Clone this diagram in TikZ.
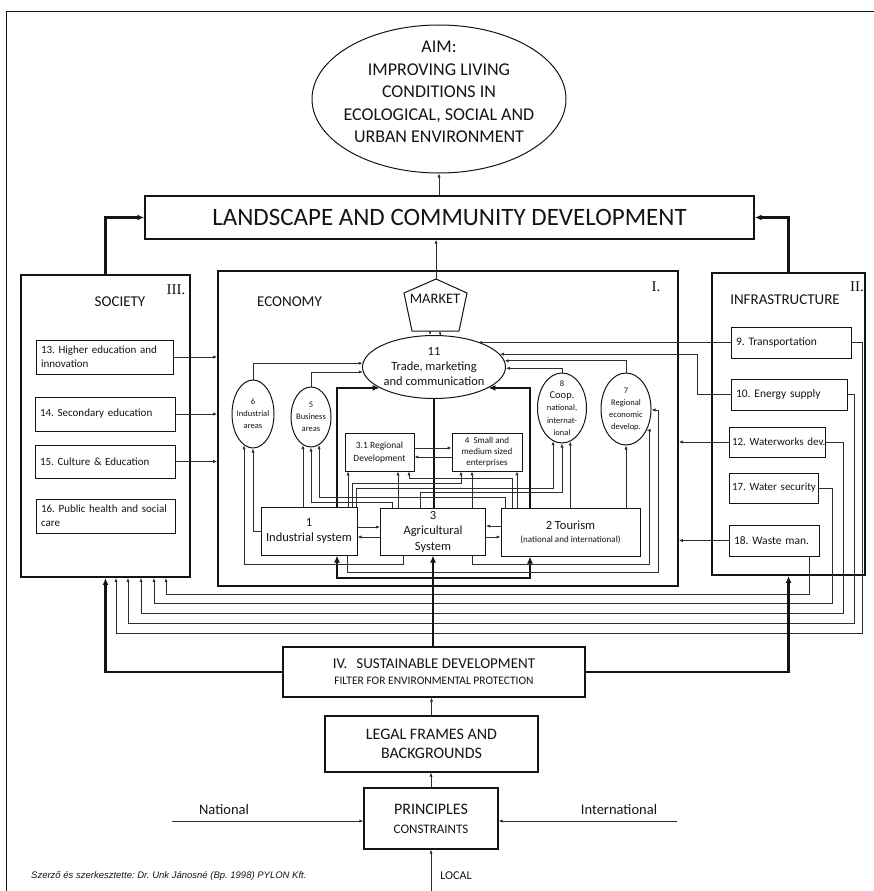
\documentclass[tikz,border=0pt]{standalone}
\usepackage{fontspec}
\usepackage{xcolor}
\usetikzlibrary{arrows.meta,shapes.geometric}
\setmainfont{Carlito}
\newfontfamily\romanfont{Liberation Serif}
\newfontfamily\notefont{Liberation Sans}
\definecolor{ink}{HTML}{141414}
\definecolor{wire}{HTML}{2E2E2E}
\tikzset{
  lbl/.style={inner sep=0pt, align=center, text=ink},
  box/.style={draw=ink, line width=1pt, inner sep=0pt, align=center, text=ink},
  panel/.style={draw=ink, line width=1.8pt, inner sep=0pt},
  subbox/.style={draw=ink, line width=0.8pt, inner xsep=5pt, inner ysep=0pt, align=left, text=ink, font=\fontsize{11}{14}\selectfont},
  oval/.style={draw=ink, ellipse, line width=1pt, inner sep=0pt, align=center, text=ink},
  arr/.style={draw=wire, line width=0.7pt, -{Latex[length=4pt,width=3.2pt]}},
  thk/.style={draw=ink, line width=2.2pt},
  thkarr/.style={thk, -{Latex[length=7pt,width=6pt]}}
}

\begin{document}
\frenchspacing
\begin{tikzpicture}[x=1pt,y=-1pt]
\useasboundingbox (0,0) rectangle (874,891);
\draw[ink, line width=0.8pt] (874,11) -| (6,891);

% aim and landscape
\node[oval, minimum width=254pt, minimum height=148pt] (aim) at (439,99) {};
\node[lbl, font=\fontsize{18}{22.6}\selectfont] (aimtext) at (439,92) {AIM:\\IMPROVING LIVING\\CONDITIONS IN\\ECOLOGICAL, SOCIAL AND\\URBAN ENVIRONMENT};
\node[box, line width=1.4pt, minimum width=609pt, minimum height=43pt, font=\fontsize{25}{30}\selectfont] (lcd) at (449.5,217.5) {LANDSCAPE AND COMMUNITY DEVELOPMENT};

% three pillars
\node[panel, minimum width=169pt, minimum height=302pt] (soc) at (105.5,426) {};
\node[panel, line width=1.6pt, minimum width=460pt, minimum height=315pt] (eco) at (448,428.5) {};
\node[panel, minimum width=153pt, minimum height=302pt] (inf) at (788.5,424) {};
\node[lbl, font=\fontsize{15}{18}\selectfont] (soctitle) at (120,302) {SOCIETY};
\node[lbl, font=\romanfont\fontsize{15}{18}\selectfont] (socnum) at (176,290) {III.};
\node[lbl, font=\fontsize{15}{18}\selectfont] (ecotitle) at (289.5,301.5) {ECONOMY};
\node[lbl, font=\romanfont\fontsize{15}{18}\selectfont] (econum) at (656,287) {I.};
\node[lbl, font=\fontsize{15}{18}\selectfont] (inftitle) at (785,300) {INFRASTRUCTURE};
\node[lbl, font=\romanfont\fontsize{15}{18}\selectfont] (infnum) at (857,287) {II.};

% society
\node[subbox, text width=127pt, minimum height=34pt] (s13) at (104.5,357) {13. Higher education and\\innovation};
\node[subbox, text width=130pt, minimum height=34pt] (s14) at (105,414) {\mbox{14. Secondary education}};
\node[subbox, text width=130pt, minimum height=33pt] (s15) at (105,461.5) {\mbox{15. Culture \& Education}};
\node[subbox, text width=129pt, minimum height=34pt] (s16) at (105.5,516) {\mbox{16. Public health and social}\\care};

% infrastructure
\node[subbox, font=\fontsize{11.5}{13}\selectfont, text width=110pt, minimum height=31pt] (i9) at (791,342.5) {\mbox{9. Transportation}};
\node[subbox, font=\fontsize{11.5}{13}\selectfont, text width=106pt, minimum height=31pt] (i10) at (789,394.5) {\mbox{10. Energy supply}};
\node[subbox, font=\fontsize{11}{13}\selectfont, inner xsep=3pt, text width=90pt, minimum height=30pt] (i12) at (777,442) {\mbox{12. Waterworks dev.}};
\node[subbox, font=\fontsize{11}{13}\selectfont, inner xsep=3pt, text width=83pt, minimum height=30pt] (i17) at (773.5,488) {\mbox{17. Water security}};
\node[subbox, font=\fontsize{11.5}{13}\selectfont, text width=80pt, minimum height=31pt] (i18) at (774,540.5) {\mbox{18. Waste man.}};

% economy
\coordinate (mkttop) at (436,279);
\coordinate (mktbase) at (436,331);
\draw[ink, line width=1pt] (mkttop) -- (404,293) -- (412,331) -- (459,331) -- (467,293) -- cycle;
\node[lbl, font=\fontsize{14.5}{16}\selectfont] (mkt) at (435,299) {MARKET};
\node[oval, minimum width=143pt, minimum height=63pt, font=\fontsize{12.5}{15}\selectfont] (e11) at (434,367) {11\\Trade, marketing\\and communication};
\node[oval, inner sep=-6pt, minimum width=42pt, minimum height=68pt, font=\fontsize{8.5}{12}\selectfont] (e6) at (253,414) {6\\Industrial\\areas};
\node[oval, inner sep=-6pt, minimum width=40pt, minimum height=60pt, font=\fontsize{8.5}{12}\selectfont] (e5) at (311,417) {5\\Business\\areas};
\node[oval, inner sep=-6pt, minimum width=49pt, minimum height=70pt, font=\fontsize{8.5}{12.3}\selectfont] (e8) at (562,408) {8\\{\fontsize{10.5}{12.3}\selectfont Coop.}\\national,\\internat-\\ional};
\node[oval, inner sep=-6pt, minimum width=50pt, minimum height=72pt, font=\fontsize{8.5}{12}\selectfont] (e7) at (626,409) {7\\Regional\\economic\\develop.};
\node[box, line width=0.8pt, minimum width=69pt, minimum height=38pt, font=\fontsize{9.5}{13}\selectfont] (b31) at (379.5,452) {3.1 Regional\\Development};
\node[box, line width=0.8pt, minimum width=70pt, minimum height=38pt, font=\fontsize{9}{11}\selectfont] (b4) at (487,452) {4\ \ Small and\\medium sized\\enterprises};
\node[box, minimum width=96pt, minimum height=48pt, font=\fontsize{12.5}{15}\selectfont] (ind) at (309,531) {1\\Industrial system};
\node[box, minimum width=105pt, minimum height=47pt, font=\fontsize{12.5}{15.5}\selectfont] (agr) at (433,531.5) {3\\Agricultural\\System};
\node[box, minimum width=139pt, minimum height=48pt, font=\fontsize{12.5}{13}\selectfont] (tou) at (570.5,532) {2 Tourism\\{\fontsize{9}{13}\selectfont(national and international)}};

% foundations
\node[box, line width=1.2pt, minimum width=302pt, minimum height=50pt, font=\fontsize{15}{16}\selectfont] (sd) at (434,672) {IV.\hspace{9pt}SUSTAINABLE DEVELOPMENT\\{\fontsize{11.5}{16}\selectfont FILTER FOR ENVIRONMENTAL PROTECTION}};
\node[box, line width=1.2pt, minimum width=213pt, minimum height=56pt, font=\fontsize{16}{19}\selectfont] (legal) at (431.5,744) {LEGAL FRAMES AND\\BACKGROUNDS};
\node[box, line width=1.2pt, minimum width=134pt, minimum height=61pt, font=\fontsize{16}{19}\selectfont] (prin) at (431,818.5) {PRINCIPLES\\{\fontsize{13}{19}\selectfont CONSTRAINTS}};
\node[lbl, font=\fontsize{14.5}{17}\selectfont] (natl) at (224,810) {National};
\node[lbl, font=\fontsize{14.5}{17}\selectfont] (intl) at (619,810) {International};
\node[lbl, font=\fontsize{12}{14}\selectfont] (locl) at (456,876) {LOCAL};
\node[lbl, anchor=west, font=\notefont\itshape\fontsize{9.5}{11}\selectfont] (credit) at (31,876) {Szerző és szerkesztette: Dr. Unk Jánosné (Bp. 1998) PYLON Kft.};
\coordinate (natend) at (172,821);
\coordinate (intend) at (677,821);
\coordinate (locend) at (431,891);

% upper links
\draw[arr] (lcd.north -| aim.south) -- (aim.south);
\draw[arr] (mkttop) -- (mkttop |- lcd.south);
\draw[thkarr] (soc.north) |- (lcd.west);
\draw[thkarr] (inf.north) |- (lcd.east);

% market and trade
\draw[arr, -{Latex[length=3pt,width=2.6pt]}] (mktbase -| 430,0) -- (e11.north -| 430,0);
\draw[arr, -{Latex[length=3pt,width=2.6pt]}] (e11.north -| 440,0) -- (mktbase -| 440,0);
\draw[arr] (e6.north) |- (e11.177);
\draw[arr] (e5.north) |- (e11.184);
\draw[arr] (e8.north) |- (e11.359);
\draw[arr] (e7.north) |- (e11.5);
\draw[arr] (i9.west) -- (i9.west -| e11.30);
\draw[arr] (i10.west) -- (i10.west -| 697,0) |- (e11.11);
\draw[arr] (i12.west) -- (i12.west -| eco.east);
\draw[arr] (i18.west) -- (i18.west -| eco.east);
\draw[arr] (s13.east) -- (s13.east -| eco.west);
\draw[arr] (s14.east) -- (s14.east -| eco.west);
\draw[arr] (s15.east) -- (s15.east -| eco.west);

% thick spine
\draw[thkarr] (ind.north -| 337,0) |- (e11.201);
\draw[thkarr] (tou.north -| 530,0) |- (e11.339);
\draw[thk] (agr.north -| e11.south) -- (e11.south);
\draw[thkarr] (agr.south |- 0,578) -| (ind.south -| 337,0);
\draw[thkarr] (agr.south |- 0,578) -| (tou.south -| 530,0);

% industrial system
\draw[arr] (ind.west) -| (e6.south);
\draw[arr] (e5.254 |- ind.north) -- (e5.254);
\draw[arr] (ind.north -| 348,0) -- (b31.south -| 348,0);
\draw[arr] (ind.north -| 352,0) -- (352,483) -| (b4.south -| 461,0);
\draw[arr] (ind.north -| 356,0) -- (356,488) -| (e8.255);
\draw[arr] (ind.south -| 347,0) |- (658,572) |- (e7.358);
\draw[arr] (ind.east |- 0,527) -- (agr.west |- 0,527);
\draw[arr] (agr.west |- 0,537) -- (ind.east |- 0,537);

% agricultural system
\draw[arr] (agr.north -| 392,0) -- (392,502) -| (e5.south);
\draw[arr] (agr.north -| 398,0) -- (b31.south -| 398,0);
\draw[arr] (agr.north -| 420,0) -- (420,492) -| (e8.south);
\draw[arr] (agr.north -| 472,0) -- (b4.south -| 472,0);
\draw[arr] (agr.south -| 403,0) |- (e6.254 |- 0,564) -- (e6.254);
\draw[arr] (agr.south -| 472,0) |- (649,564) |- (e7.314);
\draw[arr] (agr.east |- 0,537) -- (tou.west |- 0,537);
\draw[arr] (tou.west |- 0,526) -- (agr.east |- 0,526);

% tourism
\draw[arr] (tou.north -| 505,0) -- (505,497) -| (e5.286);
\draw[arr] (tou.north -| 512,0) -- (512,478) -| (b31.south -| 409,0);
\draw[arr] (tou.north -| 517,0) -- (b4.south -| 517,0);
\draw[arr] (e8.284 |- tou.north) -- (e8.284);
\draw[arr] (tou.north -| e7.south) -- (e7.south);
\draw[arr] (b31.east |- 0,448) -- (b4.west |- 0,448);
\draw[arr] (b4.west |- 0,457) -- (b31.east |- 0,457);

% infrastructure back to society
\draw[arr] (i9.east) -| (862,633) -| (soc.south -| 116,0);
\draw[arr] (i10.east) -| (854,623) -| (soc.south -| 128,0);
\draw[arr] (i12.east) -| (843,613) -| (soc.south -| 141,0);
\draw[arr] (i17.east) -| (832,603) -| (soc.south -| 154,0);
\draw[arr] (i18.south -| 809,0) |- (166,594) -- (soc.south -| 166,0);

% foundations
\draw[thkarr] (sd.west) -| (soc.south);
\draw[thkarr] (sd.east) -| (inf.south);
\draw[thkarr] (sd.north -| agr.south) -- (agr.south);
\draw[arr] (legal.north) -- (legal.north |- sd.south);
\draw[arr] (prin.north) -- (prin.north |- legal.south);
\draw[arr] (locend) -- (prin.south);
\draw[arr] (natend) -- (natend -| prin.west);
\draw[arr] (intend) -- (intend -| prin.east);
\end{tikzpicture}
\end{document}
